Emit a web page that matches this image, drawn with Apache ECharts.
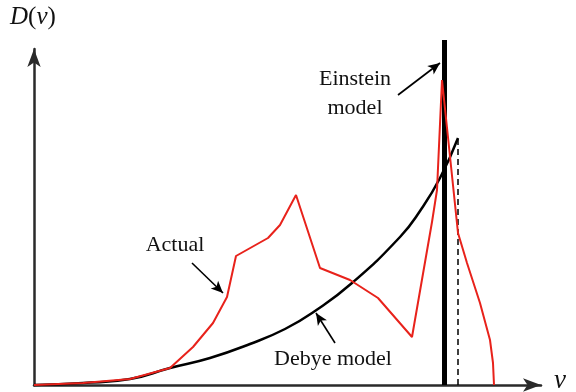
<!DOCTYPE html>
<html>
<head>
<meta charset="utf-8">
<script src="https://cdn.jsdelivr.net/npm/echarts@6/dist/echarts.min.js"></script>
<style>html,body{margin:0;padding:0;background:#fff}#c{width:576px;height:392px}</style>
</head>
<body>
<div id="c"></div>
<script>
// Data (arbitrary frequency / density units)
var actualPoints = [[0,0],[49,2],[96,6],[136,17],[159,38],[179,62],[193,88],[202,129],[234,147],[246,160],[262,190],[286,117],[316,105],[344,87],[378,48],[398,163],[403,195],[408,305],[424,152],[433,122],[446,82],[456,45],[459,22],[460,0]];
var debyePoints = [[0,0],[49,2],[96,6],[136,17],[176,27],[216,41],[251,56],[281,74],[318,102],[366,148],[386,174],[406,207],[424,247]];
var einsteinLine = [[410.5,0],[410.5,345]];
var debyeCutoff = [[424,0],[424,247]];
var arrowEinstein = [[364,290],[406,322]];
var arrowActual = [[158,122],[189,92]];
var arrowDebye = [[301,42],[282,72]];
var xMax = 507, yMax = 336;

var serif = "'Liberation Serif','Times New Roman',serif";
var chart = echarts.init(document.getElementById('c'), null, {renderer:'canvas'});
function arrow(p){ return [{coord:p[0]},{coord:p[1]}]; }
chart.setOption({
  animation:false,
  grid:{left:34, right:35, top:49, bottom:7},
  xAxis:{type:'value', min:0, max:xMax,
    axisLine:{lineStyle:{color:'#2a2a2a', width:2.5}, symbol:['none','arrow'], symbolSize:[10,18]},
    axisTick:{show:false}, axisLabel:{show:false}, splitLine:{show:false}},
  yAxis:{type:'value', min:0, max:yMax,
    axisLine:{show:true, lineStyle:{color:'#2a2a2a', width:2.5}, symbol:['none','arrow'], symbolSize:[10,18]},
    axisTick:{show:false}, axisLabel:{show:false}, splitLine:{show:false}},
  series:[
    {type:'line', data:debyePoints, smooth:0.5, symbol:'none', clip:false,
     lineStyle:{color:'#000', width:2.5}, z:3},
    {type:'line', data:debyeCutoff, symbol:'none', clip:false,
     lineStyle:{color:'#000', width:1.5, type:[6,4]}, z:3},
    {type:'line', data:einsteinLine, symbol:'none', clip:false,
     lineStyle:{color:'#000', width:5}, z:2},
    {type:'line', data:actualPoints, symbol:'none', clip:false,
     lineStyle:{color:'#e8221b', width:2}, z:4,
     markLine:{silent:true, symbol:['none','arrow'], symbolSize:[8,12],
       label:{show:false}, lineStyle:{color:'#000', width:1.6, type:'solid'},
       data:[arrow(arrowEinstein), arrow(arrowActual), arrow(arrowDebye)]}}
  ],
  graphic:[
    {type:'text', left:10, top:5, style:{rich:{i:{fontStyle:'italic', fontFamily:serif, fontSize:25, fill:'#111'}, n:{fontFamily:serif, fontSize:25, fill:'#111'}}, text:'{i|D}{n|(}{i|ν}{n|)}'}},
    {type:'text', x:560, y:381, style:{text:'ν', fontStyle:'italic', fontFamily:serif, fontSize:27, fill:'#111', align:'center', verticalAlign:'middle'}},
    {type:'text', x:355, y:79, style:{text:'Einstein', fontFamily:serif, fontSize:22, fill:'#111', align:'center', verticalAlign:'middle'}},
    {type:'text', x:355, y:108, style:{text:'model', fontFamily:serif, fontSize:22, fill:'#111', align:'center', verticalAlign:'middle'}},
    {type:'text', x:175, y:245.5, style:{text:'Actual', fontFamily:serif, fontSize:22, fill:'#111', align:'center', verticalAlign:'middle'}},
    {type:'text', x:333, y:359, style:{text:'Debye model', fontFamily:serif, fontSize:22, fill:'#111', align:'center', verticalAlign:'middle'}}
  ]
});
</script>
</body>
</html>
